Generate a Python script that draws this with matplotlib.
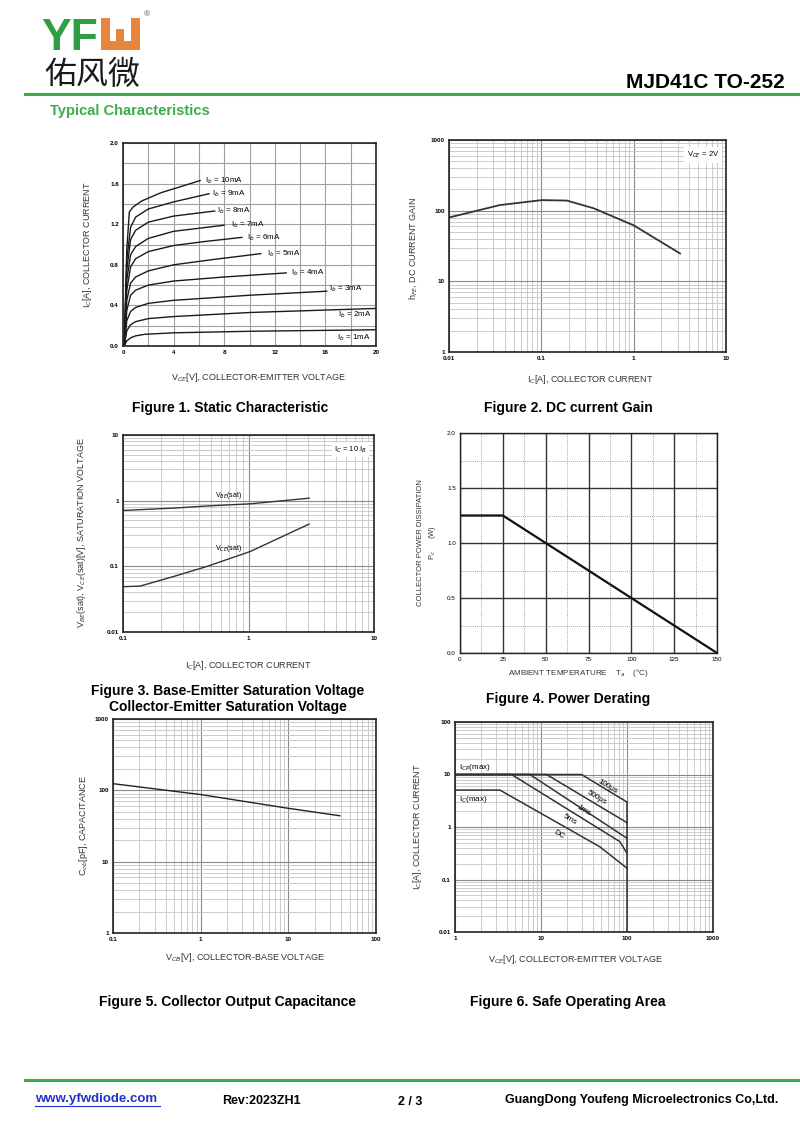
import matplotlib
matplotlib.use('Agg')
import matplotlib.pyplot as plt
from matplotlib.patches import Rectangle
from matplotlib.lines import Line2D
from matplotlib.ticker import LogLocator, NullFormatter, FixedLocator
import numpy as np

plt.rcParams['font.family'] = ['Liberation Sans', 'DejaVu Sans']

W, H = 800, 1141
GREEN = '#3aae4a'
LOGO_GREEN = '#2f9e44'
ORANGE = '#e8853c'

# ---- Figure 1: static characteristic (Ib curves) ----
ib_labels = ['1mA', '2mA', '3mA', '4mA', '5mA', '6mA', '7mA', '8mA', '9mA', '10mA']
ib_vce = [
    [0.1, 0.3, 0.6, 1.0, 1.7, 4, 10, 20],
    [0.1, 0.3, 0.6, 1.0, 2, 4, 10, 20],
    [0.1, 0.3, 0.6, 1.0, 2, 4, 10, 16.1],
    [0.1, 0.3, 0.6, 1.0, 2, 4, 8, 12.9],
    [0.1, 0.3, 0.6, 1.0, 2, 4, 7, 10.9],
    [0.1, 0.3, 0.6, 1.0, 2, 4, 6.5, 9.4],
    [0.1, 0.3, 0.6, 1.0, 2, 4, 8.0],
    [0.1, 0.3, 0.6, 1.0, 2, 4, 7.25],
    [0.1, 0.3, 0.6, 1.0, 2, 4, 6.8],
    [0.1, 0.3, 0.5, 0.8, 1.5, 3, 6.1],
]
ib_ic = [
    [0.0, 0.05, 0.08, 0.10, 0.115, 0.13, 0.145, 0.16],
    [0.0, 0.15, 0.21, 0.24, 0.27, 0.29, 0.33, 0.37],
    [0.0, 0.25, 0.34, 0.38, 0.42, 0.45, 0.50, 0.54],
    [0.0, 0.35, 0.50, 0.55, 0.60, 0.64, 0.68, 0.72],
    [0.0, 0.45, 0.62, 0.68, 0.74, 0.80, 0.85, 0.91],
    [0.0, 0.55, 0.78, 0.86, 0.93, 0.99, 1.03, 1.07],
    [0.0, 0.65, 0.90, 0.98, 1.06, 1.13, 1.19],
    [0.0, 0.75, 1.05, 1.14, 1.22, 1.28, 1.33],
    [0.0, 0.85, 1.17, 1.27, 1.35, 1.42, 1.50],
    [0.0, 0.95, 1.32, 1.37, 1.43, 1.51, 1.63],
]
ib_label_pos = [(16.9, 0.08), (17.0, 0.31), (16.3, 0.56), (13.3, 0.72), (11.4, 0.905),
                (9.8, 1.07), (8.5, 1.19), (7.4, 1.33), (7.0, 1.50), (6.5, 1.63)]

# ---- Figure 2: DC current gain ----
hfe_ic = [0.01, 0.0356, 0.101, 0.189, 0.369, 1.0, 3.18]
hfe_val = [80, 120, 141, 139, 108, 62, 24.8]

# ---- Figure 3: saturation voltages ----
sat_ic = [0.1, 0.137, 0.253, 0.465, 1.03, 3.04]
vbe_sat = [0.71, 0.73, 0.77, 0.83, 0.895, 1.09]
vce_sat = [0.049, 0.05, 0.070, 0.0995, 0.168, 0.44]

# ---- Figure 4: power derating ----
ta = [0, 25, 150]
pc = [1.25, 1.25, 0.0]

# ---- Figure 5: output capacitance ----
vcb = [0.1, 1.02, 9.5, 38.7]
cob = [124, 87, 56.5, 44]

# ---- Figure 6: safe operating area ----
soa_names = ['100\u03bcs', '500\u03bcs', '1ms', '5ms', 'DC']
soa_v = [
    [1, 29.6, 98.6, 100, 100],
    [1, 11.6, 100],
    [1, 7.43, 100],
    [1, 4.55, 82.5, 100],
    [1, 3.33, 48.3, 100],
]
soa_i = [
    [10, 10, 3.03, 3.03, 0.01],
    [10, 10, 1.21],
    [10, 10, 0.61],
    [10, 10, 0.527, 0.316],
    [5.05, 5.05, 0.42, 0.164],
]
soa_label_pos = [(60, 5.9), (44, 3.66), (31, 2.1), (21.7, 1.36), (16.3, 0.70)]


def ax_at(fig, x0, y0, x1, y1):
    return fig.add_axes([x0 / W, 1 - y1 / H, (x1 - x0) / W, (y1 - y0) / H])


def ftext(fig, x, y, s, **kw):
    fig.text(x / W, 1 - y / H, s, **kw)


def style_axes(ax, lw=1.2):
    for sp in ax.spines.values():
        sp.set_linewidth(lw)
        sp.set_color('#222222')
    ax.tick_params(which='both', length=0, labelsize=4.5, pad=3)
    for lab in ax.get_xticklabels() + ax.get_yticklabels():
        lab.set_fontweight('bold')


def log_grid(ax, axis='both'):
    ax.grid(which='major', axis=axis, color='#8a8a8a', lw=0.8)
    ax.grid(which='minor', axis=axis, color='#c4c4c4', lw=0.6)
    ax.set_axisbelow(True)


fig = plt.figure(figsize=(8, 11.41), dpi=100)

# ---------- header ----------
ftext(fig, 41, 50, 'YF', fontsize=32, fontweight='bold', color=LOGO_GREEN, va='baseline')
# orange stylised W
for (x, y, w, h) in [(101, 18, 9, 32), (131, 18, 9, 32), (101, 41, 39, 9), (116, 29, 8, 14)]:
    fig.patches.append(Rectangle((x / W, 1 - (y + h) / H), w / W, h / H,
                                 transform=fig.transFigure, color=ORANGE, lw=0))
ftext(fig, 147, 15, '\u00ae', fontsize=6, color='#555555', ha='center', va='center')
ftext(fig, 44, 75, '佑风微', fontsize=23, family=['Noto Sans CJK SC', 'DejaVu Sans'],
      color='#1a1a1a', va='center')
ftext(fig, 785, 82, 'MJD41C TO-252', fontsize=15, fontweight='bold', ha='right', va='center')
fig.add_artist(Line2D([25 / W, 1.0], [1 - 94 / H] * 2, color=GREEN, lw=2.2,
                      transform=fig.transFigure))
ftext(fig, 50, 111, 'Typical Characteristics', fontsize=10.6, fontweight='bold', color=GREEN,
      va='center')

# ---------- Figure 1 ----------
ax1 = ax_at(fig, 123, 143, 376, 346)
for v, i in zip(ib_vce, ib_ic):
    ax1.plot(v, i, color='#1a1a1a', lw=1.0)
for lab, (x, y) in zip(ib_labels, ib_label_pos):
    ax1.text(x, y, 'I$_b$ = ' + lab, fontsize=5.8, va='center', ha='left')
ax1.set_xlim(0, 20)
ax1.set_ylim(0, 2.0)
ax1.xaxis.set_major_locator(FixedLocator(np.arange(0, 21, 4)))
ax1.yaxis.set_major_locator(FixedLocator(np.arange(0, 2.01, 0.4)))
ax1.set_xticks(np.arange(0, 21, 2), minor=True)
ax1.set_yticks(np.arange(0, 2.01, 0.2), minor=True)
ax1.set_xticklabels(['0', '4', '8', '12', '16', '20'])
ax1.set_yticklabels(['0.0', '0.4', '0.8', '1.2', '1.6', '2.0'])
ax1.grid(which='both', color='#a0a0a0', lw=0.8)
ax1.set_axisbelow(True)
style_axes(ax1)
ftext(fig, 88, 245, 'I$_C$[A], COLLECTOR CURRENT', fontsize=6.5, rotation=90,
      ha='center', va='center', color='#333333')
ftext(fig, 258, 378, 'V$_{CE}$[V], COLLECTOR-EMITTER VOLTAGE', fontsize=6.5,
      ha='center', va='center', color='#333333')
ftext(fig, 230, 408, 'Figure 1. Static Characteristic', fontsize=10, fontweight='bold',
      ha='center', va='center')

# ---------- Figure 2 ----------
ax2 = ax_at(fig, 449, 140, 726, 352)
ax2.plot(hfe_ic, hfe_val, color='#333333', lw=1.3)
ax2.set_xscale('log')
ax2.set_yscale('log')
ax2.set_xlim(0.01, 10)
ax2.set_ylim(1, 1000)
ax2.set_xticks([0.01, 0.1, 1, 10])
ax2.set_xticklabels(['0.01', '0.1', '1', '10'])
ax2.set_yticks([1, 10, 100, 1000])
ax2.set_yticklabels(['1', '10', '100', '1000'])
for a in (ax2.xaxis, ax2.yaxis):
    a.set_minor_locator(LogLocator(base=10, subs=np.arange(2, 10)))
    a.set_minor_formatter(NullFormatter())
log_grid(ax2)
style_axes(ax2)
ax2.text(8.4, 610, 'V$_{CE}$ = 2V', fontsize=5.5, ha='right', va='center',
         bbox=dict(facecolor='white', edgecolor='none', pad=2))
ftext(fig, 413, 248, 'h$_{FE}$, DC CURRENT GAIN', fontsize=6.5, rotation=90,
      ha='center', va='center', color='#333333')
ftext(fig, 590, 380, 'I$_C$[A], COLLECTOR CURRENT', fontsize=6.5,
      ha='center', va='center', color='#333333')
ftext(fig, 568, 408, 'Figure 2. DC current Gain', fontsize=10, fontweight='bold',
      ha='center', va='center')

# ---------- Figure 3 ----------
ax3 = ax_at(fig, 123, 435, 374, 632)
ax3.plot(sat_ic, vbe_sat, color='#333333', lw=1.0)
ax3.plot(sat_ic, vce_sat, color='#333333', lw=1.0)
ax3.set_xscale('log')
ax3.set_yscale('log')
ax3.set_xlim(0.1, 10)
ax3.set_ylim(0.01, 10)
ax3.set_xticks([0.1, 1, 10])
ax3.set_xticklabels(['0.1', '1', '10'])
ax3.set_yticks([0.01, 0.1, 1, 10])
ax3.set_yticklabels(['0.01', '0.1', '1', '10'])
for a in (ax3.xaxis, ax3.yaxis):
    a.set_minor_locator(LogLocator(base=10, subs=np.arange(2, 10)))
    a.set_minor_formatter(NullFormatter())
log_grid(ax3)
style_axes(ax3)
ax3.text(0.69, 1.2, 'V$_{BE}$(sat)', fontsize=5, ha='center', va='center')
ax3.text(0.69, 0.19, 'V$_{CE}$(sat)', fontsize=5, ha='center', va='center')
ax3.text(8.8, 6.0, 'I$_C$ = 10 I$_B$', fontsize=5.5, ha='right', va='center',
         bbox=dict(facecolor='white', edgecolor='none', pad=1.5))
ftext(fig, 82, 532, 'V$_{BE}$(sat), V$_{CE}$(sat)[V], SATURATION VOLTAGE', fontsize=6.5,
      rotation=90, ha='center', va='center', color='#333333')
ftext(fig, 248, 665, 'I$_C$[A], COLLECTOR CURRENT', fontsize=6.5,
      ha='center', va='center', color='#333333')
ftext(fig, 228, 691, 'Figure 3. Base-Emitter Saturation Voltage', fontsize=10,
      fontweight='bold', ha='center', va='center')
ftext(fig, 228, 707, 'Collector-Emitter Saturation Voltage', fontsize=10,
      fontweight='bold', ha='center', va='center')

# ---------- Figure 4 ----------
ax4 = ax_at(fig, 460, 433, 717, 653)
ax4.plot(ta, pc, color='#111111', lw=1.6)
ax4.set_xlim(0, 150)
ax4.set_ylim(0, 2.0)
ax4.set_xticks(np.arange(0, 151, 25))
ax4.set_yticks(np.arange(0, 2.01, 0.5))
ax4.set_xticks(np.arange(12.5, 150, 25), minor=True)
ax4.set_yticks(np.arange(0.25, 2.0, 0.5), minor=True)
ax4.set_yticklabels(['0.0', '0.5', '1.0', '1.5', '2.0'])
ax4.grid(which='major', color='#333333', lw=1.0)
ax4.grid(which='minor', color='#888888', lw=0.6, ls=(0, (1, 1.5)))
ax4.set_axisbelow(True)
style_axes(ax4, lw=1.0)
for lab in ax4.get_xticklabels() + ax4.get_yticklabels():
    lab.set_fontweight('normal')
ftext(fig, 420, 543, 'COLLECTOR POWER DISSIPATION', fontsize=5.5, rotation=90,
      ha='center', va='center', color='#333333')
ftext(fig, 432, 543, 'P$_c$      (W)', fontsize=5.5, rotation=90,
      ha='center', va='center', color='#333333')
ftext(fig, 578, 673, 'AMBIENT TEMPERATURE    T$_a$    (\u00b0C)', fontsize=5.8,
      ha='center', va='center', color='#333333')
ftext(fig, 568, 699, 'Figure 4. Power Derating', fontsize=10, fontweight='bold',
      ha='center', va='center')

# ---------- Figure 5 ----------
ax5 = ax_at(fig, 113, 719, 376, 933)
ax5.plot(vcb, cob, color='#222222', lw=1.0)
ax5.set_xscale('log')
ax5.set_yscale('log')
ax5.set_xlim(0.1, 100)
ax5.set_ylim(1, 1000)
ax5.set_xticks([0.1, 1, 10, 100])
ax5.set_xticklabels(['0.1', '1', '10', '100'])
ax5.set_yticks([1, 10, 100, 1000])
ax5.set_yticklabels(['1', '10', '100', '1000'])
for a in (ax5.xaxis, ax5.yaxis):
    a.set_minor_locator(LogLocator(base=10, subs=np.arange(2, 10)))
    a.set_minor_formatter(NullFormatter())
log_grid(ax5)
style_axes(ax5)
ftext(fig, 83, 826, 'C$_{ob}$[pF], CAPACITANCE', fontsize=6.5, rotation=90,
      ha='center', va='center', color='#333333')
ftext(fig, 245, 957, 'V$_{CB}$[V], COLLECTOR-BASE VOLTAGE', fontsize=6.5,
      ha='center', va='center', color='#333333')
ftext(fig, 228, 1002, 'Figure 5. Collector Output Capacitance', fontsize=10,
      fontweight='bold', ha='center', va='center')

# ---------- Figure 6 ----------
ax6 = ax_at(fig, 455, 722, 713, 932)
for v, i in zip(soa_v, soa_i):
    ax6.plot(v, i, color='#333333', lw=1.1)
ax6.set_xscale('log')
ax6.set_yscale('log')
ax6.set_xlim(1, 1000)
ax6.set_ylim(0.01, 100)
ax6.set_xticks([1, 10, 100, 1000])
ax6.set_xticklabels(['1', '10', '100', '1000'])
ax6.set_yticks([0.01, 0.1, 1, 10, 100])
ax6.set_yticklabels(['0.01', '0.1', '1', '10', '100'])
for a in (ax6.xaxis, ax6.yaxis):
    a.set_minor_locator(LogLocator(base=10, subs=np.arange(2, 10)))
    a.set_minor_formatter(NullFormatter())
log_grid(ax6)
style_axes(ax6)
for name, (x, y) in zip(soa_names, soa_label_pos):
    ax6.text(x, y, name, fontsize=5.8, rotation=-31, ha='center', va='center')
ax6.text(1.1, 10.8, 'I$_{CP}$(max)', fontsize=5.8, ha='left', va='bottom')
ax6.text(1.1, 4.2, 'I$_C$(max)', fontsize=5.8, ha='left', va='top')
ftext(fig, 418, 827, 'I$_C$[A], COLLECTOR CURRENT', fontsize=6.5, rotation=90,
      ha='center', va='center', color='#333333')
ftext(fig, 575, 960, 'V$_{CE}$[V], COLLECTOR-EMITTER VOLTAGE', fontsize=6.5,
      ha='center', va='center', color='#333333')
ftext(fig, 568, 1002, 'Figure 6. Safe Operating Area', fontsize=10, fontweight='bold',
      ha='center', va='center')

# ---------- footer ----------
fig.add_artist(Line2D([25 / W, 1.0], [1 - 1080 / H] * 2, color=GREEN, lw=2.2,
                      transform=fig.transFigure))
ftext(fig, 35, 1099, 'www.yfwdiode.com', fontsize=9.5, fontweight='bold', color='#2233cc',
      va='center')
fig.add_artist(Line2D([35 / W, 160 / W], [1 - 1106 / H] * 2, color='#2233cc', lw=0.8,
                      transform=fig.transFigure))
ftext(fig, 222, 1101, 'Rev:2023ZH1', fontsize=9, fontweight='bold', va='center')
ftext(fig, 398, 1102, '2 / 3', fontsize=9, fontweight='bold', va='center')
ftext(fig, 778, 1100, 'GuangDong Youfeng Microelectronics Co,Ltd.', fontsize=9,
      fontweight='bold', ha='right', va='center')

fig.savefig('out.png', dpi=100)
